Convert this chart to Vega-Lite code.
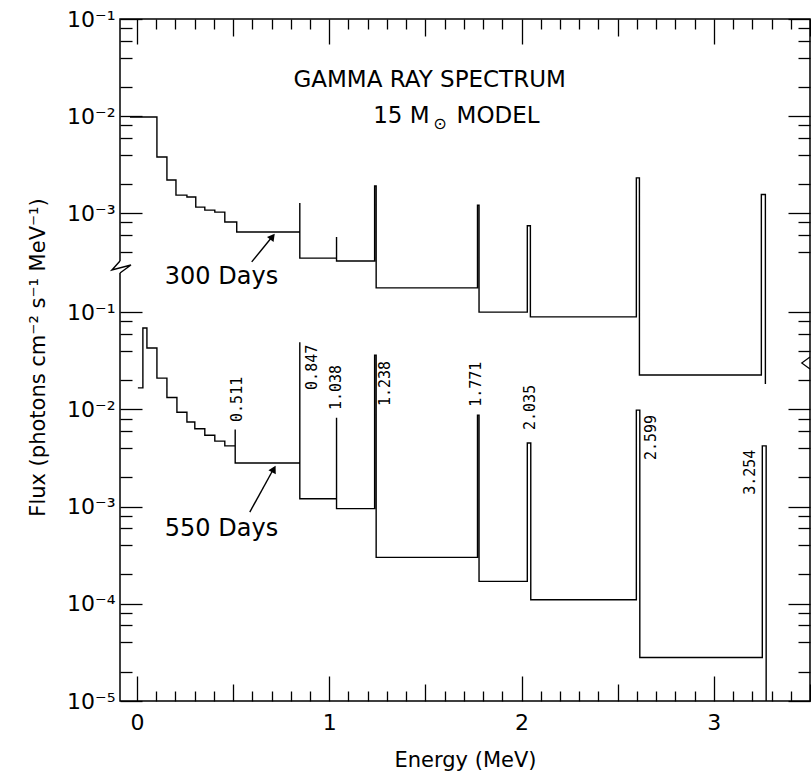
{
  "$schema": "https://vega.github.io/schema/vega-lite/v6.json",
  "width": 690,
  "height": 682,
  "autosize": "none",
  "padding": {"left": 120, "top": 19, "right": 1, "bottom": 74},
  "background": "white",
  "config": {
    "font": "DejaVu Sans",
    "view": {"stroke": "black", "strokeWidth": 1.5},
    "axis": {"domain": false, "grid": false, "tickColor": "black", "tickWidth": 1.3, "labelColor": "black", "titleColor": "black", "labelOverlap": false, "labelBound": false, "labelFlush": false}
  },
  "datasets": {
    "upper": [
      {"i": 1, "energy": -0.036, "flux": 0.00977},
      {"i": 2, "energy": 0.104, "flux": 0.00977},
      {"i": 3, "energy": 0.104, "flux": 0.00378},
      {"i": 4, "energy": 0.156, "flux": 0.00378},
      {"i": 5, "energy": 0.156, "flux": 0.00219},
      {"i": 6, "energy": 0.203, "flux": 0.00219},
      {"i": 7, "energy": 0.203, "flux": 0.00153},
      {"i": 8, "energy": 0.26, "flux": 0.00153},
      {"i": 9, "energy": 0.26, "flux": 0.00146},
      {"i": 10, "energy": 0.306, "flux": 0.00146},
      {"i": 11, "energy": 0.306, "flux": 0.00115},
      {"i": 12, "energy": 0.353, "flux": 0.00115},
      {"i": 13, "energy": 0.353, "flux": 0.00107},
      {"i": 14, "energy": 0.405, "flux": 0.00107},
      {"i": 15, "energy": 0.405, "flux": 0.00102},
      {"i": 16, "energy": 0.457, "flux": 0.00102},
      {"i": 17, "energy": 0.457, "flux": 0.000807},
      {"i": 18, "energy": 0.519, "flux": 0.000807},
      {"i": 19, "energy": 0.519, "flux": 0.000637},
      {"i": 20, "energy": 0.847, "flux": 0.000637},
      {"i": 21, "energy": 0.847, "flux": 0.00127},
      {"i": 22, "energy": 0.847, "flux": 0.000343},
      {"i": 23, "energy": 1.038, "flux": 0.000343},
      {"i": 24, "energy": 1.038, "flux": 0.000566},
      {"i": 25, "energy": 1.038, "flux": 0.00032},
      {"i": 26, "energy": 1.236, "flux": 0.00032},
      {"i": 27, "energy": 1.236, "flux": 0.0019},
      {"i": 28, "energy": 1.244, "flux": 0.0019},
      {"i": 29, "energy": 1.244, "flux": 0.000169},
      {"i": 30, "energy": 1.771, "flux": 0.000169},
      {"i": 31, "energy": 1.771, "flux": 0.0012},
      {"i": 32, "energy": 1.779, "flux": 0.0012},
      {"i": 33, "energy": 1.779, "flux": 0.000095},
      {"i": 34, "energy": 2.03, "flux": 0.000095},
      {"i": 35, "energy": 2.03, "flux": 0.00074},
      {"i": 36, "energy": 2.046, "flux": 0.00074},
      {"i": 37, "energy": 2.046, "flux": 0.000085},
      {"i": 38, "energy": 2.597, "flux": 0.000085},
      {"i": 39, "energy": 2.597, "flux": 0.0023},
      {"i": 40, "energy": 2.613, "flux": 0.0023},
      {"i": 41, "energy": 2.613, "flux": 0.0000214},
      {"i": 42, "energy": 3.247, "flux": 0.0000214},
      {"i": 43, "energy": 3.247, "flux": 0.00155},
      {"i": 44, "energy": 3.268, "flux": 0.00155},
      {"i": 45, "energy": 3.268, "flux": 0.0000173}
    ],
    "lower": [
      {"i": 1, "energy": 0.005, "flux": 0.0166},
      {"i": 2, "energy": 0.031, "flux": 0.0166},
      {"i": 3, "energy": 0.031, "flux": 0.0684},
      {"i": 4, "energy": 0.052, "flux": 0.0684},
      {"i": 5, "energy": 0.052, "flux": 0.0427},
      {"i": 6, "energy": 0.104, "flux": 0.0427},
      {"i": 7, "energy": 0.104, "flux": 0.0209},
      {"i": 8, "energy": 0.156, "flux": 0.0209},
      {"i": 9, "energy": 0.156, "flux": 0.0132},
      {"i": 10, "energy": 0.208, "flux": 0.0132},
      {"i": 11, "energy": 0.208, "flux": 0.0093},
      {"i": 12, "energy": 0.26, "flux": 0.0093},
      {"i": 13, "energy": 0.26, "flux": 0.0074},
      {"i": 14, "energy": 0.301, "flux": 0.0074},
      {"i": 15, "energy": 0.301, "flux": 0.0063},
      {"i": 16, "energy": 0.353, "flux": 0.0063},
      {"i": 17, "energy": 0.353, "flux": 0.0054},
      {"i": 18, "energy": 0.405, "flux": 0.0054},
      {"i": 19, "energy": 0.405, "flux": 0.0047},
      {"i": 20, "energy": 0.457, "flux": 0.0047},
      {"i": 21, "energy": 0.457, "flux": 0.0042},
      {"i": 22, "energy": 0.511, "flux": 0.0042},
      {"i": 23, "energy": 0.511, "flux": 0.0062},
      {"i": 24, "energy": 0.511, "flux": 0.0028},
      {"i": 25, "energy": 0.847, "flux": 0.0028},
      {"i": 26, "energy": 0.847, "flux": 0.049},
      {"i": 27, "energy": 0.847, "flux": 0.0012},
      {"i": 28, "energy": 1.038, "flux": 0.0012},
      {"i": 29, "energy": 1.038, "flux": 0.0082},
      {"i": 30, "energy": 1.038, "flux": 0.00095},
      {"i": 31, "energy": 1.236, "flux": 0.00095},
      {"i": 32, "energy": 1.236, "flux": 0.036},
      {"i": 33, "energy": 1.244, "flux": 0.036},
      {"i": 34, "energy": 1.244, "flux": 0.0003},
      {"i": 35, "energy": 1.771, "flux": 0.0003},
      {"i": 36, "energy": 1.771, "flux": 0.0087},
      {"i": 37, "energy": 1.779, "flux": 0.0087},
      {"i": 38, "energy": 1.779, "flux": 0.00017},
      {"i": 39, "energy": 2.03, "flux": 0.00017},
      {"i": 40, "energy": 2.03, "flux": 0.0045},
      {"i": 41, "energy": 2.048, "flux": 0.0045},
      {"i": 42, "energy": 2.048, "flux": 0.00011},
      {"i": 43, "energy": 2.597, "flux": 0.00011},
      {"i": 44, "energy": 2.597, "flux": 0.0098},
      {"i": 45, "energy": 2.615, "flux": 0.0098},
      {"i": 46, "energy": 2.615, "flux": 0.000028},
      {"i": 47, "energy": 3.252, "flux": 0.000028},
      {"i": 48, "energy": 3.252, "flux": 0.0042},
      {"i": 49, "energy": 3.272, "flux": 0.0042},
      {"i": 50, "energy": 3.272, "flux": 0.00001}
    ],
    "lineLabels": [
      {"energy": 0.52, "flux": 0.0074, "text": "0.511"},
      {"energy": 0.909, "flux": 0.0158, "text": "0.847"},
      {"energy": 1.034, "flux": 0.0098, "text": "1.038"},
      {"energy": 1.288, "flux": 0.0108, "text": "1.238"},
      {"energy": 1.761, "flux": 0.0106, "text": "1.771"},
      {"energy": 2.042, "flux": 0.00612, "text": "2.035"},
      {"energy": 2.675, "flux": 0.003, "text": "2.599"},
      {"energy": 3.19, "flux": 0.00132, "text": "3.254"}
    ]
  },
  "resolve": {"scale": {"x": "independent", "y": "independent"}, "axis": {"x": "independent", "y": "independent"}},
  "layer": [
    {
      "resolve": {"axis": {"x": "independent", "y": "independent"}},
      "layer": [
        {
          "data": {"name": "upper"},
          "mark": {"type": "line", "color": "black", "strokeWidth": 1.4, "clip": true},
          "encoding": {
            "x": {"field": "energy", "type": "quantitative", "scale": {"domain": [-0.088, 3.5], "nice": false, "zero": false},
              "axis": {"orient": "top", "values": [0,0.1,0.2,0.3,0.4,0.5,0.6,0.7,0.8,0.9,1,1.1,1.2,1.3,1.4,1.5,1.6,1.7,1.8,1.9,2,2.1,2.2,2.3,2.4,2.5,2.6,2.7,2.8,2.9,3,3.1,3.2,3.3,3.4,3.5],
                "tickSize": {"expr": "abs(datum.value - round(datum.value)) < 0.001 ? -25 : (abs(datum.value*2 - round(datum.value*2)) < 0.001 ? -17 : -10)"},
                "labels": false, "title": null}},
            "y": {"field": "flux", "type": "quantitative", "scale": {"type": "log", "domain": [0.000001, 0.1], "range": [485, 0], "nice": false},
              "axis": {"orient": "left", "values": [0.1,0.08,0.06,0.04,0.02,0.01,0.008,0.006,0.004,0.002,0.001,0.0008,0.0006,0.0004],
                "tickSize": {"expr": "abs(log(datum.value)/LN10 - round(log(datum.value)/LN10)) < 0.001 ? -22 : -12"},
                "labelExpr": "abs(log(datum.value)/LN10 - round(log(datum.value)/LN10)) < 0.001 ? '10' + ['⁻¹','⁻²','⁻³','⁻⁴','⁻⁵'][-round(log(datum.value)/LN10) - 1] : ''",
                "labelPadding": 27, "labelFontSize": 22, "title": null}},
            "order": {"field": "i", "type": "quantitative"}
          }
        },
        {
          "data": {"values": [{"energy": 1.522, "flux": 0.0199, "text": "GAMMA RAY SPECTRUM"}]},
          "mark": {"type": "text", "fontSize": 23, "align": "center", "baseline": "alphabetic", "color": "black"},
          "encoding": {
            "x": {"field": "energy", "type": "quantitative", "scale": {"domain": [-0.088, 3.5], "nice": false, "zero": false}, "axis": null},
            "y": {"field": "flux", "type": "quantitative", "scale": {"type": "log", "domain": [0.000001, 0.1], "range": [485, 0], "nice": false},
              "axis": {"orient": "right", "values": [0.1,0.08,0.06,0.04,0.02,0.01,0.008,0.006,0.004,0.002,0.001,0.0008,0.0006,0.0004],
                "tickSize": {"expr": "abs(log(datum.value)/LN10 - round(log(datum.value)/LN10)) < 0.001 ? -22 : -12"},
                "labels": false, "title": null}},
            "text": {"field": "text"}
          }
        },
        {
          "data": {"values": [{"energy": 1.522, "flux": 0.00848, "text": "15 M"}]},
          "mark": {"type": "text", "fontSize": 23, "align": "right", "baseline": "alphabetic", "color": "black"},
          "encoding": {
            "x": {"field": "energy", "type": "quantitative", "scale": {"domain": [-0.088, 3.5], "nice": false, "zero": false}, "axis": null},
            "y": {"field": "flux", "type": "quantitative", "scale": {"type": "log", "domain": [0.000001, 0.1], "range": [485, 0], "nice": false}, "axis": null},
            "text": {"field": "text"}
          }
        },
        {
          "data": {"values": [{"energy": 1.576, "flux": 0.00734, "text": "⊙"}]},
          "mark": {"type": "text", "fontSize": 16, "align": "center", "baseline": "alphabetic", "color": "black"},
          "encoding": {
            "x": {"field": "energy", "type": "quantitative", "scale": {"domain": [-0.088, 3.5], "nice": false, "zero": false}, "axis": null},
            "y": {"field": "flux", "type": "quantitative", "scale": {"type": "log", "domain": [0.000001, 0.1], "range": [485, 0], "nice": false}, "axis": null},
            "text": {"field": "text"}
          }
        },
        {
          "data": {"values": [{"energy": 1.662, "flux": 0.00848, "text": "MODEL"}]},
          "mark": {"type": "text", "fontSize": 23, "align": "left", "baseline": "alphabetic", "color": "black"},
          "encoding": {
            "x": {"field": "energy", "type": "quantitative", "scale": {"domain": [-0.088, 3.5], "nice": false, "zero": false}, "axis": null},
            "y": {"field": "flux", "type": "quantitative", "scale": {"type": "log", "domain": [0.000001, 0.1], "range": [485, 0], "nice": false}, "axis": null},
            "text": {"field": "text"}
          }
        },
        {
          "data": {"values": [{"energy": 0.145, "flux": 0.000186, "text": "300 Days"}]},
          "mark": {"type": "text", "fontSize": 24, "align": "left", "baseline": "alphabetic", "color": "black"},
          "encoding": {
            "x": {"field": "energy", "type": "quantitative", "scale": {"domain": [-0.088, 3.5], "nice": false, "zero": false}, "axis": null},
            "y": {"field": "flux", "type": "quantitative", "scale": {"type": "log", "domain": [0.000001, 0.1], "range": [485, 0], "nice": false}, "axis": null},
            "text": {"field": "text"}
          }
        },
        {
          "data": {"values": [{"energy": 0.597, "flux": 0.000313, "energy2": 0.71, "flux2": 0.00059}]},
          "mark": {"type": "rule", "color": "black", "strokeWidth": 1.4},
          "encoding": {
            "x": {"field": "energy", "type": "quantitative", "scale": {"domain": [-0.088, 3.5], "nice": false, "zero": false}, "axis": null},
            "y": {"field": "flux", "type": "quantitative", "scale": {"type": "log", "domain": [0.000001, 0.1], "range": [485, 0], "nice": false}, "axis": null},
            "x2": {"field": "energy2"},
            "y2": {"field": "flux2"}
          }
        },
        {
          "data": {"values": [{"energy": 0.705, "flux": 0.00057}]},
          "mark": {"type": "point", "shape": "triangle-up", "filled": true, "color": "black", "size": 70, "angle": 38, "opacity": 1},
          "encoding": {
            "x": {"field": "energy", "type": "quantitative", "scale": {"domain": [-0.088, 3.5], "nice": false, "zero": false}, "axis": null},
            "y": {"field": "flux", "type": "quantitative", "scale": {"type": "log", "domain": [0.000001, 0.1], "range": [485, 0], "nice": false}, "axis": null}
          }
        }
      ]
    },
    {
      "resolve": {"axis": {"x": "independent", "y": "independent"}},
      "layer": [
        {
          "data": {"name": "lower"},
          "mark": {"type": "line", "color": "black", "strokeWidth": 1.4, "clip": true},
          "encoding": {
            "x": {"field": "energy", "type": "quantitative", "scale": {"domain": [-0.088, 3.5], "nice": false, "zero": false},
              "axis": {"orient": "bottom", "values": [0,0.1,0.2,0.3,0.4,0.5,0.6,0.7,0.8,0.9,1,1.1,1.2,1.3,1.4,1.5,1.6,1.7,1.8,1.9,2,2.1,2.2,2.3,2.4,2.5,2.6,2.7,2.8,2.9,3,3.1,3.2,3.3,3.4,3.5],
                "tickSize": {"expr": "abs(datum.value - round(datum.value)) < 0.001 ? -25 : (abs(datum.value*2 - round(datum.value*2)) < 0.001 ? -17 : -10)"},
                "labelExpr": "abs(datum.value - round(datum.value)) < 0.001 ? format(datum.value, 'd') : ''",
                "labelPadding": 36, "labelFontSize": 22,
                "title": "Energy (MeV)", "titleFontSize": 21, "titleFontWeight": "normal", "titleY": 65, "titleBaseline": "alphabetic"}},
            "y": {"field": "flux", "type": "quantitative", "scale": {"type": "log", "domain": [0.00001, 0.1], "range": [682, 293], "nice": false},
              "axis": {"orient": "left", "values": [0.2,0.1,0.08,0.06,0.04,0.02,0.01,0.008,0.006,0.004,0.002,0.001,0.0008,0.0006,0.0004,0.0002,0.0001,0.00008,0.00006,0.00004,0.00002,0.00001],
                "tickSize": {"expr": "abs(log(datum.value)/LN10 - round(log(datum.value)/LN10)) < 0.001 ? -22 : -12"},
                "labelExpr": "abs(log(datum.value)/LN10 - round(log(datum.value)/LN10)) < 0.001 ? '10' + ['⁻¹','⁻²','⁻³','⁻⁴','⁻⁵'][-round(log(datum.value)/LN10) - 1] : ''",
                "labelPadding": 27, "labelFontSize": 22,
                "title": "Flux (photons cm⁻² s⁻¹ MeV⁻¹)", "titleFontSize": 21, "titleFontWeight": "normal", "titleX": -82, "titleY": 338, "titleBaseline": "middle", "titleAlign": "center"}},
            "order": {"field": "i", "type": "quantitative"}
          }
        },
        {
          "data": {"name": "lineLabels"},
          "mark": {"type": "text", "font": "DejaVu Sans Mono", "fontSize": 15, "angle": 270, "align": "left", "baseline": "middle", "color": "black"},
          "encoding": {
            "x": {"field": "energy", "type": "quantitative", "scale": {"domain": [-0.088, 3.5], "nice": false, "zero": false}, "axis": null},
            "y": {"field": "flux", "type": "quantitative", "scale": {"type": "log", "domain": [0.00001, 0.1], "range": [682, 293], "nice": false},
              "axis": {"orient": "right", "values": [0.2,0.1,0.08,0.06,0.04,0.02,0.01,0.008,0.006,0.004,0.002,0.001,0.0008,0.0006,0.0004,0.0002,0.0001,0.00008,0.00006,0.00004,0.00002,0.00001],
                "tickSize": {"expr": "abs(log(datum.value)/LN10 - round(log(datum.value)/LN10)) < 0.001 ? -22 : -12"},
                "labels": false, "title": null}},
            "text": {"field": "text"}
          }
        },
        {
          "data": {"values": [{"energy": 0.145, "flux": 0.000497, "text": "550 Days"}]},
          "mark": {"type": "text", "fontSize": 24, "align": "left", "baseline": "alphabetic", "color": "black"},
          "encoding": {
            "x": {"field": "energy", "type": "quantitative", "scale": {"domain": [-0.088, 3.5], "nice": false, "zero": false}, "axis": null},
            "y": {"field": "flux", "type": "quantitative", "scale": {"type": "log", "domain": [0.00001, 0.1], "range": [682, 293], "nice": false}, "axis": null},
            "text": {"field": "text"}
          }
        },
        {
          "data": {"values": [{"energy": 0.587, "flux": 0.000877, "energy2": 0.716, "flux2": 0.00255}]},
          "mark": {"type": "rule", "color": "black", "strokeWidth": 1.4},
          "encoding": {
            "x": {"field": "energy", "type": "quantitative", "scale": {"domain": [-0.088, 3.5], "nice": false, "zero": false}, "axis": null},
            "y": {"field": "flux", "type": "quantitative", "scale": {"type": "log", "domain": [0.00001, 0.1], "range": [682, 293], "nice": false}, "axis": null},
            "x2": {"field": "energy2"},
            "y2": {"field": "flux2"}
          }
        },
        {
          "data": {"values": [{"energy": 0.712, "flux": 0.00243}]},
          "mark": {"type": "point", "shape": "triangle-up", "filled": true, "color": "black", "size": 70, "angle": 29, "opacity": 1},
          "encoding": {
            "x": {"field": "energy", "type": "quantitative", "scale": {"domain": [-0.088, 3.5], "nice": false, "zero": false}, "axis": null},
            "y": {"field": "flux", "type": "quantitative", "scale": {"type": "log", "domain": [0.00001, 0.1], "range": [682, 293], "nice": false}, "axis": null}
          }
        },
        {
          "data": {"values": [{"energy": -0.1, "flux": 0.2519, "energy2": -0.076, "flux2": 0.3345}]},
          "mark": {"type": "rect", "color": "white", "clip": false},
          "encoding": {
            "x": {"field": "energy", "type": "quantitative", "scale": {"domain": [-0.088, 3.5], "nice": false, "zero": false}, "axis": null},
            "y": {"field": "flux", "type": "quantitative", "scale": {"type": "log", "domain": [0.00001, 0.1], "range": [682, 293], "nice": false}, "axis": null},
            "x2": {"field": "energy2"},
            "y2": {"field": "flux2"}
          }
        },
        {
          "data": {"values": [
            {"i": 1, "energy": -0.088, "flux": 0.3345},
            {"i": 2, "energy": -0.13, "flux": 0.2704},
            {"i": 3, "energy": -0.031, "flux": 0.3043},
            {"i": 4, "energy": -0.088, "flux": 0.2519}
          ]},
          "mark": {"type": "line", "color": "black", "strokeWidth": 1.4, "clip": false},
          "encoding": {
            "x": {"field": "energy", "type": "quantitative", "scale": {"domain": [-0.088, 3.5], "nice": false, "zero": false}, "axis": null},
            "y": {"field": "flux", "type": "quantitative", "scale": {"type": "log", "domain": [0.00001, 0.1], "range": [682, 293], "nice": false}, "axis": null},
            "order": {"field": "i", "type": "quantitative"}
          }
        },
        {
          "data": {"values": [
            {"i": 1, "energy": 3.5, "flux": 0.0344},
            {"i": 2, "energy": 3.457, "flux": 0.0299},
            {"i": 3, "energy": 3.5, "flux": 0.0259}
          ]},
          "mark": {"type": "line", "color": "black", "strokeWidth": 1.2, "clip": false},
          "encoding": {
            "x": {"field": "energy", "type": "quantitative", "scale": {"domain": [-0.088, 3.5], "nice": false, "zero": false}, "axis": null},
            "y": {"field": "flux", "type": "quantitative", "scale": {"type": "log", "domain": [0.00001, 0.1], "range": [682, 293], "nice": false}, "axis": null},
            "order": {"field": "i", "type": "quantitative"}
          }
        }
      ]
    }
  ]
}
